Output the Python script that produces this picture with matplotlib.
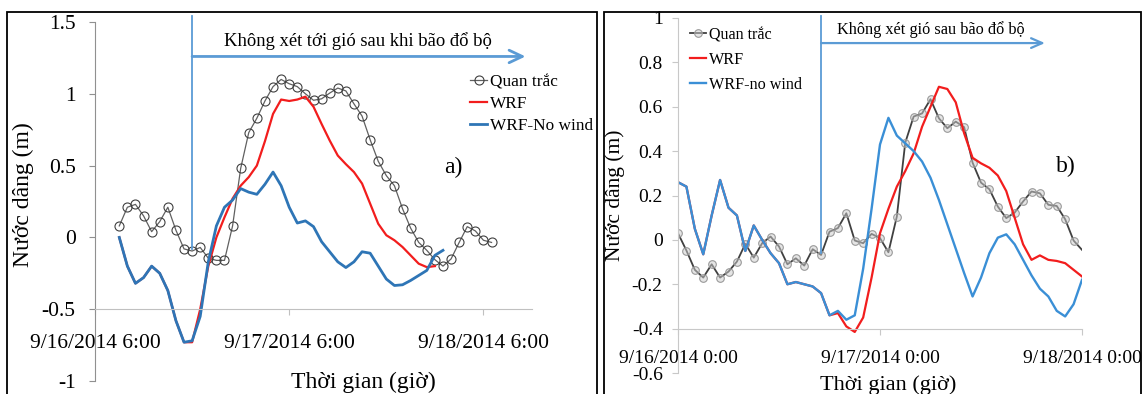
import matplotlib
matplotlib.use("Agg")
import matplotlib.pyplot as plt
from matplotlib.patches import Rectangle

plt.rcParams["font.family"] = ["Liberation Serif", "DejaVu Serif"]
plt.rcParams["axes.unicode_minus"] = False

# ---- panel a) : hours after 9/16/2014 6:00 ----
hours_obs_a = list(range(3, 50))
obs_a = [0.08, 0.21, 0.23, 0.15, 0.04, 0.11, 0.21, 0.05, -0.08, -0.095,
         -0.07, -0.145, -0.16, -0.16, 0.08, 0.48, 0.73, 0.83, 0.95, 1.05,
         1.10, 1.07, 1.05, 1.00, 0.955, 0.965, 1.005, 1.04, 1.02, 0.93,
         0.845, 0.68, 0.53, 0.43, 0.36, 0.20, 0.065, -0.035, -0.09, -0.155,
         -0.20, -0.15, -0.035, 0.075, 0.045, -0.02, -0.035]
hours_wrf_a = list(range(3, 43))
wrf_a = [0.0, -0.2, -0.32, -0.28, -0.2, -0.25, -0.37, -0.58, -0.73, -0.73,
         -0.5, -0.2, 0.0, 0.14, 0.27, 0.36, 0.42, 0.50, 0.67, 0.86,
         0.96, 0.95, 0.96, 0.98, 0.91, 0.79, 0.675, 0.57, 0.51, 0.455,
         0.375, 0.235, 0.095, 0.015, -0.02, -0.067, -0.125, -0.183, -0.207, -0.2]
hours_nowind_a = list(range(3, 44))
nowind_a = [0.0, -0.2, -0.32, -0.28, -0.2, -0.25, -0.37, -0.58, -0.73, -0.72,
            -0.55, -0.17, 0.08, 0.21, 0.26, 0.34, 0.315, 0.30, 0.37, 0.455,
            0.36, 0.21, 0.10, 0.115, 0.075, -0.03, -0.10, -0.17, -0.21, -0.17,
            -0.10, -0.11, -0.20, -0.29, -0.335, -0.33, -0.30, -0.265, -0.23, -0.125,
            -0.09]
xticks_a = [0, 24, 48]
xticklabels_a = ["9/16/2014 6:00", "9/17/2014 6:00", "9/18/2014 6:00"]
yticks_a = [-1, -0.5, 0, 0.5, 1, 1.5]
yticklabels_a = ["-1", "-0.5", "0", "0.5", "1", "1.5"]

# ---- panel b) : hours after 9/16/2014 0:00 ----
hours_b = list(range(0, 49))
obs_b = [0.03, -0.048, -0.135, -0.17, -0.11, -0.17, -0.143, -0.098, -0.018, -0.08,
         -0.015, 0.015, -0.03, -0.11, -0.083, -0.116, -0.042, -0.068, 0.037, 0.053,
         0.12, -0.003, -0.015, 0.027, 0.008, -0.056, 0.105, 0.438, 0.556, 0.57,
         0.634, 0.548, 0.503, 0.533, 0.508, 0.348, 0.258, 0.228, 0.15, 0.098,
         0.123, 0.173, 0.218, 0.21, 0.158, 0.153, 0.093, -0.003, -0.045]
wrf_b = [0.26, 0.24, 0.05, -0.065, 0.11, 0.27, 0.145, 0.11, -0.05, 0.065,
         0.0, -0.06, -0.105, -0.2, -0.19, -0.2, -0.21, -0.24, -0.34, -0.33,
         -0.39, -0.415, -0.35, -0.17, 0.03, 0.14, 0.24, 0.31, 0.39, 0.51,
         0.60, 0.69, 0.68, 0.62, 0.48, 0.37, 0.345, 0.325, 0.29, 0.22,
         0.10, -0.02, -0.09, -0.07, -0.09, -0.095, -0.105, -0.135, -0.165]
nowind_b = [0.26, 0.24, 0.05, -0.065, 0.11, 0.27, 0.145, 0.11, -0.05, 0.065,
            0.0, -0.06, -0.105, -0.2, -0.19, -0.2, -0.21, -0.24, -0.34, -0.32,
            -0.36, -0.34, -0.13, 0.14, 0.43, 0.55, 0.47, 0.435, 0.40, 0.353,
            0.28, 0.18, 0.07, -0.04, -0.15, -0.255, -0.17, -0.06, 0.01, 0.025,
            -0.02, -0.09, -0.16, -0.22, -0.255, -0.32, -0.345, -0.29, -0.18]
xticks_b = [0, 24, 48]
xticklabels_b = ["9/16/2014 0:00", "9/17/2014 0:00", "9/18/2014 0:00"]
yticks_b = [-0.6, -0.4, -0.2, 0, 0.2, 0.4, 0.6, 0.8, 1.0]
yticklabels_b = ["-0.6", "-0.4", "-0.2", "0", "0.2", "0.4", "0.6", "0.8", "1"]

W, H = 1143, 394
ARROW = "#5B9BD5"


def fx(px):
    return px / W


def fy(py):
    return 1 - py / H


fig = plt.figure(figsize=(W / 100, H / 100), dpi=100)

# outer frames
fig.add_artist(Rectangle((fx(7), fy(420)), fx(597 - 7), (420 - 12) / H,
                         transform=fig.transFigure, fill=False, ec="black", lw=1.3))
fig.add_artist(Rectangle((fx(604), fy(420)), fx(1141 - 604), (420 - 12) / H,
                         transform=fig.transFigure, fill=False, ec="black", lw=1.3))

# ---------------- panel a ----------------
ax = fig.add_axes([fx(95), fy(381), fx(532 - 95), (381 - 22) / H])
ax.plot(hours_obs_a, obs_a, color="#606060", lw=0.9, marker="o", ms=6.5,
        mfc="none", mec="#404040", mew=0.8, label="Quan trắc")
ax.plot(hours_wrf_a, wrf_a, color="#F21D1D", lw=1.6, label="WRF")
ax.plot(hours_nowind_a, nowind_a, color="#2E75B6", lw=2.0, label="WRF-No wind")
ax.set_xlim(0, 54)
ax.set_ylim(-1, 1.5)
ax.spines["top"].set_visible(False)
ax.spines["right"].set_visible(False)
ax.spines["bottom"].set_position(("data", -0.5))
ax.spines["bottom"].set_color("#C0C0C0")
ax.spines["left"].set_color("#909090")
ax.set_xticks(xticks_a)
ax.set_xticklabels(xticklabels_a, fontsize=15.5)
ax.set_yticks(yticks_a)
ax.set_yticklabels(yticklabels_a, fontsize=15.5)
ax.tick_params(axis="x", length=4, pad=13.5, color="#C0C0C0")
ax.tick_params(axis="y", length=4, pad=10, color="#909090")
ax.plot([12, 12], [-0.08, 1.54], color=ARROW, lw=1.3, clip_on=False)
ax.annotate("", xy=(53.2, 1.26), xytext=(12, 1.26),
            arrowprops=dict(arrowstyle="->,head_length=0.95,head_width=0.45",
                            color=ARROW, lw=2, shrinkA=0, shrinkB=0))
ax.text(32.5, 1.37, "Không xét tới gió sau khi bão đổ bộ", fontsize=13.4,
        ha="center", va="center")
ax.legend(loc="upper left", bbox_to_anchor=(fx(470), fy(74)),
          bbox_transform=fig.transFigure, frameon=False, fontsize=12.4,
          handlelength=1.0, handletextpad=0.15, labelspacing=0.35, borderpad=0,
          borderaxespad=0)
fig.text(fx(453), fy(167), "a)", fontsize=17, ha="center", va="center")
fig.text(fx(23), fy(195), "Nước dâng (m)", fontsize=17, rotation=90,
         ha="center", va="center")
fig.text(fx(363), fy(382), "Thời gian (giờ)", fontsize=17, ha="center", va="center")

# ---------------- panel b ----------------
bx = fig.add_axes([fx(678), fy(373), fx(1082 - 678), (373 - 18) / H])
bx.plot(hours_b, obs_b, color="#404040", lw=1.3, marker="o", ms=5.5,
        mfc=(0.8, 0.8, 0.8, 0.5), mec="#9A9A9A", mew=0.8,
        markevery=list(range(len(hours_b) - 1)), label="Quan trắc")
bx.plot(hours_b, wrf_b, color="#F21D1D", lw=1.6, label="WRF")
bx.plot(hours_b, nowind_b, color="#3A8FD6", lw=1.7, label="WRF-no wind")
bx.set_xlim(0, 48)
bx.set_ylim(-0.6, 1.0)
bx.spines["top"].set_visible(False)
bx.spines["right"].set_visible(False)
bx.spines["bottom"].set_position(("data", -0.4))
bx.spines["bottom"].set_color("#C8C8C8")
bx.spines["left"].set_color("#C8C8C8")
bx.set_xticks(xticks_b)
bx.set_xticklabels(xticklabels_b, fontsize=14)
bx.set_yticks(yticks_b)
bx.set_yticklabels(yticklabels_b, fontsize=14)
bx.tick_params(axis="x", length=4, pad=11.5, color="#C8C8C8")
bx.tick_params(axis="y", length=4, pad=7, color="#C8C8C8")
bx.plot([17, 17], [-0.06, 1.01], color=ARROW, lw=1.3, clip_on=False)
bx.annotate("", xy=(43.6, 0.887), xytext=(17, 0.887),
            arrowprops=dict(arrowstyle="->,head_length=0.8,head_width=0.35",
                            color=ARROW, lw=1.6, shrinkA=0, shrinkB=0))
bx.text(30, 0.946, "Không xét gió sau bão đổ bộ", fontsize=11.7,
        ha="center", va="center")
bx.legend(loc="upper left", bbox_to_anchor=(fx(690), fy(27)),
          bbox_transform=fig.transFigure, frameon=False, fontsize=11.6,
          handlelength=1.0, handletextpad=0.15, labelspacing=0.55, borderpad=0,
          borderaxespad=0)
fig.text(fx(1066), fy(166), "b)", fontsize=17, ha="center", va="center")
fig.text(fx(615), fy(195), "Nước dâng (m)", fontsize=15.5, rotation=90,
         ha="center", va="center")
fig.text(fx(888), fy(385), "Thời gian (giờ)", fontsize=16, ha="center", va="center")

fig.savefig("out.png", dpi=100)
